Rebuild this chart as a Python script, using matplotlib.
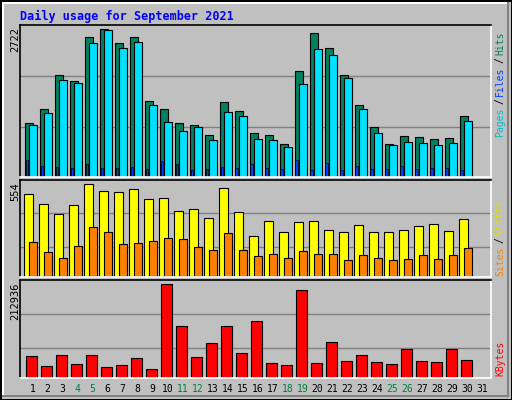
import matplotlib
matplotlib.use("Agg")
import matplotlib.pyplot as plt
import numpy as np

days = list(range(1, 32))
weekend = [4, 5, 11, 12, 18, 19, 25, 26]

# daily values (day 31 has no data)
hits = [1004, 1244, 1872, 1761, 2574, 2722, 2463, 2574, 1392, 1244,
        1004, 967, 782, 1373, 1225, 819, 782, 616, 1946, 2648,
        2371, 1872, 1336, 930, 616, 764, 745, 708, 727, 1115]
files = [967, 1188, 1780, 1724, 2463, 2703, 2371, 2482, 1318, 1022,
         856, 930, 690, 1207, 1133, 708, 690, 560, 1706, 2352,
         2241, 1817, 1244, 819, 597, 653, 634, 597, 634, 1041]
pages = [320, 209, 191, 172, 246, 172, 172, 191, 154, 302,
         246, 135, 154, 191, 172, 246, 172, 154, 320, 135,
         265, 135, 209, 154, 154, 209, 154, 172, 172, 135]
visits = [494, 434, 374, 428, 554, 512, 506, 524, 464, 470,
          392, 404, 350, 530, 386, 248, 332, 272, 326, 332,
          284, 272, 308, 272, 272, 284, 302, 314, 278, 344]
sites = [212, 152, 116, 188, 296, 272, 200, 206, 218, 236,
         230, 182, 164, 266, 164, 128, 140, 116, 158, 140,
         140, 104, 134, 116, 104, 110, 134, 110, 134, 176]
kbytes = [49735, 26422, 52066, 31085, 52066, 24091, 28753, 45073, 19429, 212936,
          117354, 47404, 80041, 117354, 56728, 129010, 33417, 28753, 201280, 33417,
          82372, 38080, 52066, 35749, 31085, 66054, 38080, 35749, 66054, 40411]

W, H = 512, 400
bg = "#C0C0C0"
fig = plt.figure(figsize=(W / 100, H / 100), dpi=100, facecolor=bg)

# bevel border
def fline(x0, y0, x1, y1, c, lw=1):
    fig.add_artist(plt.Line2D([x0 / W, x1 / W], [1 - y0 / H, 1 - y1 / H], color=c, lw=lw * 0.72))

fline(0.5, 0.5, 511.5, 0.5, "black", 2)
fline(0.5, 0.5, 0.5, 399.5, "black", 2)
fline(511.5, 0, 511.5, 400, "black", 2)
fline(0, 399.5, 512, 399.5, "black", 2)
fline(3, 3, 508, 3, "white", 2)
fline(3, 3, 3, 396, "white", 2)
fline(508, 3, 508, 396, "#808080", 2)
fline(3, 396, 508, 396, "#808080", 2)

mono = "DejaVu Sans Mono"
x = np.array(days[:30])
xl = (0.277, 31.68)


def panel(top, bottom, ymax, grids):
    ax = fig.add_axes([20 / W, 1 - bottom / H, 471 / W, (bottom - top) / H])
    ax.set_facecolor(bg)
    ax.set_xlim(*xl)
    ax.set_ylim(0, ymax)
    for g in grids:
        ax.axhline(g, color="#808080", lw=1, zorder=0)
    ax.set_xticks([])
    ax.set_yticks([])
    for s in ["left", "top"]:
        ax.spines[s].set_color("black")
    for s in ["right", "bottom"]:
        ax.spines[s].set_color("white")
    for s in ax.spines.values():
        s.set_linewidth(1.2)
    return ax


ax1 = panel(25, 177, 2801, [918, 1860])
ax1.bar(x - 0.14, hits, width=0.52, color="#00805F", edgecolor="black", lw=0.8, align="center")
ax1.bar(x + 0.12, files, width=0.52, color="#00E0FF", edgecolor="black", lw=0.8)
ax1.bar(x - 0.27, pages, width=0.17, color="#0040FF", edgecolor="black", lw=0.5)

ax2 = panel(180, 277, 580, [182, 380])
ax2.bar(x - 0.14, visits, width=0.58, color="#FFFF00", edgecolor="black", lw=0.8)
ax2.bar(x + 0.12, sites, width=0.52, color="#FF8000", edgecolor="black", lw=0.8)

ax3 = panel(280, 378, 223030, [68385, 145320])
ax3.bar(x + 0.03, kbytes, width=0.7, color="#FF0000", edgecolor="black", lw=0.8)

# title
fig.text(20 / W, 1 - 16 / H, "Daily usage for September 2021", color="#0000FF",
         family=mono, weight="bold", fontsize=8.5, va="center")

# left max labels
for txt, yt in [("2722", 27), ("554", 182), ("212936", 282)]:
    fig.text(15 / W, 1 - yt / H, txt, rotation=90, family=mono, fontsize=7.5,
             ha="center", va="top")

# right legends (bottom to top)
def rlegend(parts, ybot):
    y = ybot
    for t, c in parts:
        fig.text(500 / W, 1 - y / H, t, rotation=90, family=mono, fontsize=7,
                 color=c, ha="center", va="bottom")
        y -= len(t) * 6.2 + 2

rlegend([("Pages", "#00C0D0"), ("/", "black"), ("Files", "#0040FF"), ("/", "black"),
         ("Hits", "#00805F")], 137)
rlegend([("Sites", "#FF8000"), ("/", "black"), ("Visits", "#E0E000")], 276)
rlegend([("KBytes", "#FF0000")], 376)

# day labels
for d in days:
    c = "#008040" if d in weekend else "black"
    fig.text((20 + (d + 0.12 - xl[0]) * 15) / W, 1 - 389 / H, str(d), color=c,
             family=mono, fontsize=7, ha="center", va="center")

fig.savefig("out.png", dpi=100, facecolor=bg)
